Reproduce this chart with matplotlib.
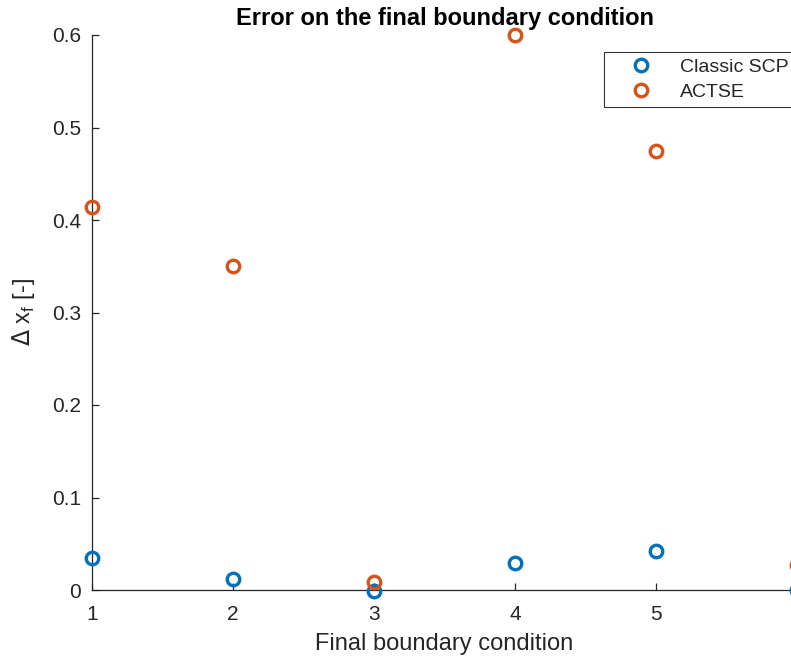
import matplotlib.pyplot as plt

plt.rcParams['font.family'] = ['Liberation Sans', 'DejaVu Sans']

# final boundary condition index
cases = [1, 2, 3, 4, 5, 6]
# error on the final state for each method
err_classic = [0.0346, 0.0119, -0.001, 0.029, 0.042, 0.0]
err_actse = [0.414, 0.350, 0.0086, 0.600, 0.4746, 0.027]

blue = '#0072BD'
orange = '#D95319'
grey = '#262626'

fig = plt.figure(figsize=(7.91, 6.62), dpi=100)
ax = fig.add_axes([92 / 791, 72 / 662, 705 / 791, 555 / 662])

ax.plot(cases, err_classic, 'o', ms=9, mew=2.4, mfc='none', mec=blue,
        label='Classic SCP', clip_on=False, zorder=3)
ax.plot(cases, err_actse, 'o', ms=9, mew=2.4, mfc='none', mec=orange,
        label='ACTSE', clip_on=False, zorder=3)

ax.set_xlim(1, 6)
ax.set_ylim(0, 0.6)
ax.set_xticks(cases)
ax.set_yticks([0, 0.1, 0.2, 0.3, 0.4, 0.5, 0.6])
ax.set_yticklabels(['0', '0.1', '0.2', '0.3', '0.4', '0.5', '0.6'])

for s in ['top', 'right']:
    ax.spines[s].set_visible(False)
for s in ['left', 'bottom']:
    ax.spines[s].set_color(grey)
    ax.spines[s].set_linewidth(0.9)
ax.tick_params(direction='in', length=5, width=0.9, colors=grey,
               labelsize=15, pad=11)
ax.tick_params(axis='y', pad=8)

ax.set_xlabel('Final boundary condition', fontsize=17, color=grey, labelpad=6)
ax.set_ylabel(r'$\Delta$ x$_\mathregular{f}$ [-]', fontsize=17, color=grey)
ax.yaxis.set_label_coords(-0.078, 0.5)
ax.set_title('Error on the final boundary condition', fontsize=17,
             fontweight='bold', pad=7)

leg = ax.legend(loc='upper left', bbox_to_anchor=(0.726, 0.969), fontsize=14,
                frameon=True, fancybox=False, edgecolor='black',
                handletextpad=0.4, borderpad=0.3, labelspacing=0.4,
                handlelength=3.2, borderaxespad=0)
leg.get_frame().set_linewidth(0.8)
for t in leg.get_texts():
    t.set_color(grey)

fig.savefig('out.png', dpi=100)
